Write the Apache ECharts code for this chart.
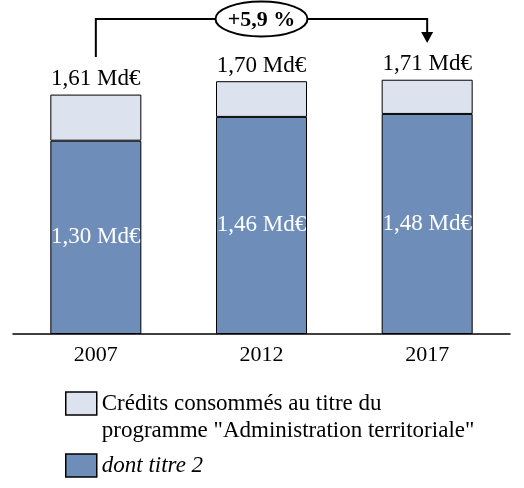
<!DOCTYPE html>
<html><head><meta charset="utf-8">
<script src="https://cdn.jsdelivr.net/npm/echarts@6/dist/echarts.min.js"></script>
<style>html,body{margin:0;padding:0;background:#fff}#c{width:524px;height:488px}</style>
</head><body><div id="c"></div>
<script>
var categories = ['2007', '2012', '2017'];
var titre2 = [1.30, 1.46, 1.48];
var totals = [1.61, 1.70, 1.71];
var growthLabel = '+5,9 %';
var seriesNames = ['Crédits consommés au titre du\nprogramme "Administration territoriale"', 'dont titre 2'];

var rest = totals.map(function (t, i) { return +(t - titre2[i]).toFixed(2); });
function fr(v) { return v.toFixed(2).replace('.', ',') + ' Md€'; }

var FONT = 'Liberation Serif';
var chart = echarts.init(document.getElementById('c'));
var option = {
  animation: false,
  textStyle: { fontFamily: FONT },
  grid: { left: 13, right: 14, top: 36.6, bottom: 154 },
  xAxis: {
    type: 'category', data: categories,
    axisLine: { lineStyle: { color: '#000', width: 1.5 } },
    axisTick: { show: false },
    axisLabel: { color: '#000', fontSize: 22, fontFamily: FONT, margin: 10 }
  },
  yAxis: { type: 'value', min: 0, max: 2, show: false, splitLine: { show: false } },
  legend: [
    {
      data: [seriesNames[0]], orient: 'vertical', left: 65, top: 363, padding: 0,
      itemWidth: 31, itemHeight: 23, icon: 'rect',
      itemStyle: { borderColor: '#000', borderWidth: 1.5 },
      formatter: function (n) { return ' \n' + n; },
      textStyle: { fontFamily: FONT, fontSize: 23, color: '#000', lineHeight: 27 }
    },
    {
      data: [seriesNames[1]], orient: 'vertical', left: 65, top: 452, padding: 0,
      itemWidth: 31, itemHeight: 23, icon: 'rect',
      itemStyle: { borderColor: '#000', borderWidth: 1.5 },
      textStyle: { fontFamily: FONT, fontSize: 23, color: '#000', fontStyle: 'italic', lineHeight: 27 }
    }
  ],
  series: [
    {
      name: seriesNames[1], type: 'bar', stack: 's', data: titre2, barWidth: 91,
      itemStyle: { color: '#6E8DB9', borderColor: '#000', borderWidth: 1 },
      label: { show: true, position: 'inside', color: '#fff', fontSize: 23, fontFamily: FONT,
        formatter: function (p) { return fr(p.value); } }
    },
    {
      name: seriesNames[0], type: 'bar', stack: 's', data: rest, barWidth: 91,
      itemStyle: { color: '#DCE3EE', borderColor: '#000', borderWidth: 1 },
      label: { show: true, position: 'top', distance: 4, color: '#000', fontSize: 23, fontFamily: FONT,
        formatter: function (p) { return fr(totals[p.dataIndex]); } }
    }
  ]
};
chart.setOption(option);

var x0 = chart.convertToPixel({ xAxisIndex: 0 }, 0);
var x2 = chart.convertToPixel({ xAxisIndex: 0 }, 2);
var xm = (x0 + x2) / 2;
var yTop = 19, yStart = 57, yTip = 43;
chart.setOption({
  graphic: [
    { type: 'polyline', shape: { points: [[x0, yStart], [x0, yTop], [x2, yTop], [x2, yTip - 10]] },
      style: { stroke: '#000', lineWidth: 2, fill: null } },
    { type: 'polygon', shape: { points: [[x2 - 6, yTip - 11], [x2 + 6, yTip - 11], [x2, yTip]] },
      style: { fill: '#000' } },
    { type: 'ellipse', shape: { cx: xm, cy: yTop, rx: 46, ry: 17.5 },
      style: { fill: '#fff', stroke: '#000', lineWidth: 2 } },
    { type: 'text', x: xm, y: yTop + 1,
      style: { text: growthLabel, fontFamily: FONT, fontSize: 22, fontWeight: 'bold', fill: '#000',
        align: 'center', verticalAlign: 'middle' } }
  ]
});
</script></body></html>
